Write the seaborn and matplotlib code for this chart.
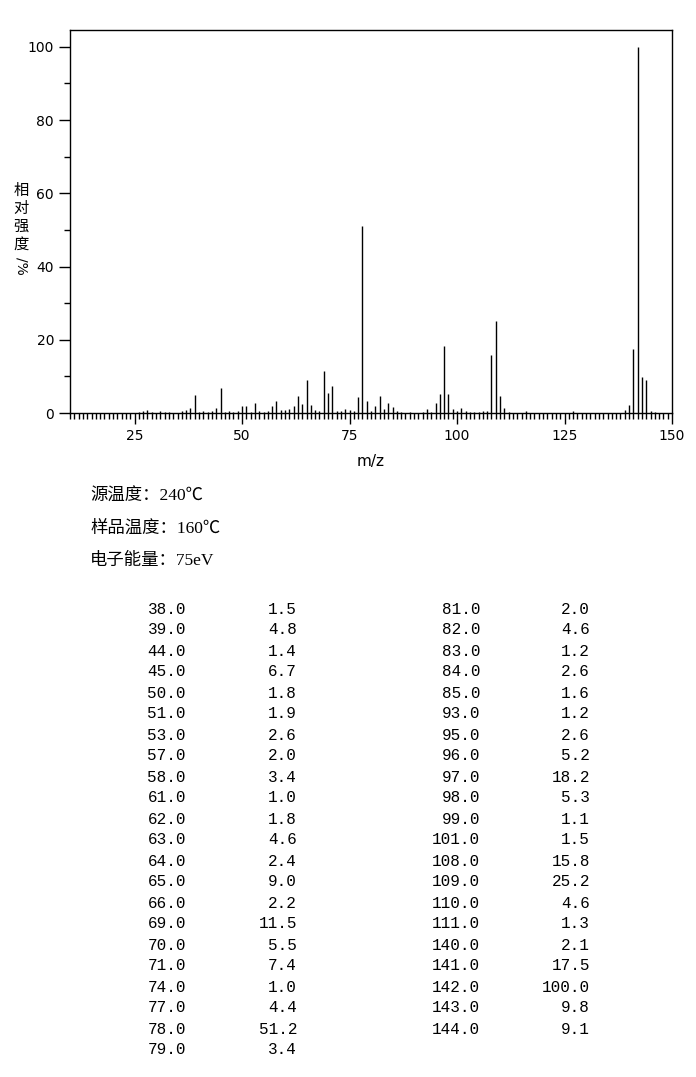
import numpy as np
import pandas as pd
import matplotlib
matplotlib.use("Agg")
import matplotlib.pyplot as plt
from matplotlib.ticker import MultipleLocator
import seaborn as sns

# peaks listed in the table
table_mz = [38, 39, 44, 45, 50, 51, 53, 57, 58, 61, 62, 63, 64, 65, 66, 69, 70, 71,
            74, 77, 78, 79, 81, 82, 83, 84, 85, 93, 95, 96, 97, 98, 99, 101, 108, 109,
            110, 111, 140, 141, 142, 143, 144]
table_int = [1.5, 4.8, 1.4, 6.7, 1.8, 1.9, 2.6, 2.0, 3.4, 1.0, 1.8, 4.6, 2.4, 9.0, 2.2,
             11.5, 5.5, 7.4, 1.0, 4.4, 51.2, 3.4, 2.0, 4.6, 1.2, 2.6, 1.6, 1.2, 2.6, 5.2,
             18.2, 5.3, 1.1, 1.5, 15.8, 25.2, 4.6, 1.3, 2.1, 17.5, 100.0, 9.8, 9.1]

# small peaks seen only in the plot (estimated)
minor_mz = [26, 27, 28, 29, 31, 32, 33, 36, 37, 40, 41, 42, 43, 46, 47, 48, 49, 52, 54,
            55, 56, 59, 60, 67, 68, 72, 73, 75, 76, 80, 86, 87, 89, 92, 94, 100, 102,
            103, 104, 105, 106, 107, 112, 116, 127, 139, 145, 146]
minor_int = [0.4, 0.6, 0.9, 0.4, 0.5, 0.4, 0.4, 0.5, 0.9, 0.4, 0.5, 0.4, 0.5, 0.4, 0.5,
             0.4, 0.5, 0.4, 0.6, 0.4, 0.6, 0.7, 0.8, 0.7, 0.5, 0.5, 0.5, 0.8, 0.6, 0.6,
             0.5, 0.4, 0.4, 0.4, 0.4, 0.5, 0.6, 0.4, 0.4, 0.4, 0.5, 0.5, 0.4, 0.6, 0.5,
             0.8, 0.6, 0.4]

info_lines = ["源温度：240℃", "样品温度：160℃", "电子能量：75eV"]
ylabel_chars = ["相", "对", "强", "度"]

df = pd.DataFrame({"mz": table_mz + minor_mz, "intensity": table_int + minor_int})

sns.set_theme(style="ticks")
plt.rcParams["font.family"] = ["DejaVu Sans", "Noto Sans CJK SC"]

fig = plt.figure(figsize=(6.96, 10.77), dpi=100)
W, H = 696, 1077
ax = fig.add_axes([70 / W, 1 - 413 / H, (672 - 70) / W, (413 - 30) / H])

ax.vlines(df["mz"], 0, df["intensity"], color="black", linewidth=1.0)
sns.despine(ax=ax, top=False, right=False)
for s in ax.spines.values():
    s.set_linewidth(1.0)
    s.set_color("black")

ax.set_xlim(10, 150)
ax.set_ylim(0, 104.6)
ax.xaxis.set_major_locator(MultipleLocator(25))
ax.xaxis.set_minor_locator(MultipleLocator(1))
ax.yaxis.set_major_locator(MultipleLocator(20))
ax.yaxis.set_minor_locator(MultipleLocator(10))
ax.tick_params(axis="both", which="major", length=8, width=1, color="black",
               labelsize=10, labelcolor="black", direction="out")
ax.tick_params(axis="both", which="minor", length=4, width=1, color="black",
               direction="out")
ax.set_xticks([25, 50, 75, 100, 125, 150])
ax.set_yticks([0, 20, 40, 60, 80, 100])
ax.set_xlabel("m/z", fontsize=11, color="black", labelpad=8)
ax.set_ylabel("")

cjk = ["Noto Sans CJK SC", "DejaVu Sans"]
for i, ch in enumerate(ylabel_chars):
    fig.text(21 / W, 1 - (190 + 18 * i) / H, ch, family=cjk, fontsize=11,
             ha="center", va="center", color="black")
fig.text(21 / W, 1 - 266 / H, "/%", family="DejaVu Sans", fontsize=10,
         rotation=-90, ha="center", va="center", color="black")

for i, line in enumerate(info_lines):
    fig.text(90 / W, 1 - (497 + 32 * i) / H, line,
             family=["Liberation Serif", "Noto Sans CJK SC"], fontsize=12.5,
             ha="left", va="center", color="black")

mono = "Liberation Mono"
left_n = 22
for i in range(len(table_mz)):
    if i < left_n:
        row, xm, xv = i, 186, 297
    else:
        row, xm, xv = i - left_n, 480, 590
    y = 1 - (609 + 21 * row) / H
    fig.text(xm / W, y, f"{table_mz[i]:.1f}", family=mono, fontsize=11.5,
             ha="right", va="center", color="black")
    fig.text(xv / W, y, f"{table_int[i]:.1f}", family=mono, fontsize=11.5,
             ha="right", va="center", color="black")

fig.savefig("out.png", dpi=100, facecolor="white")
